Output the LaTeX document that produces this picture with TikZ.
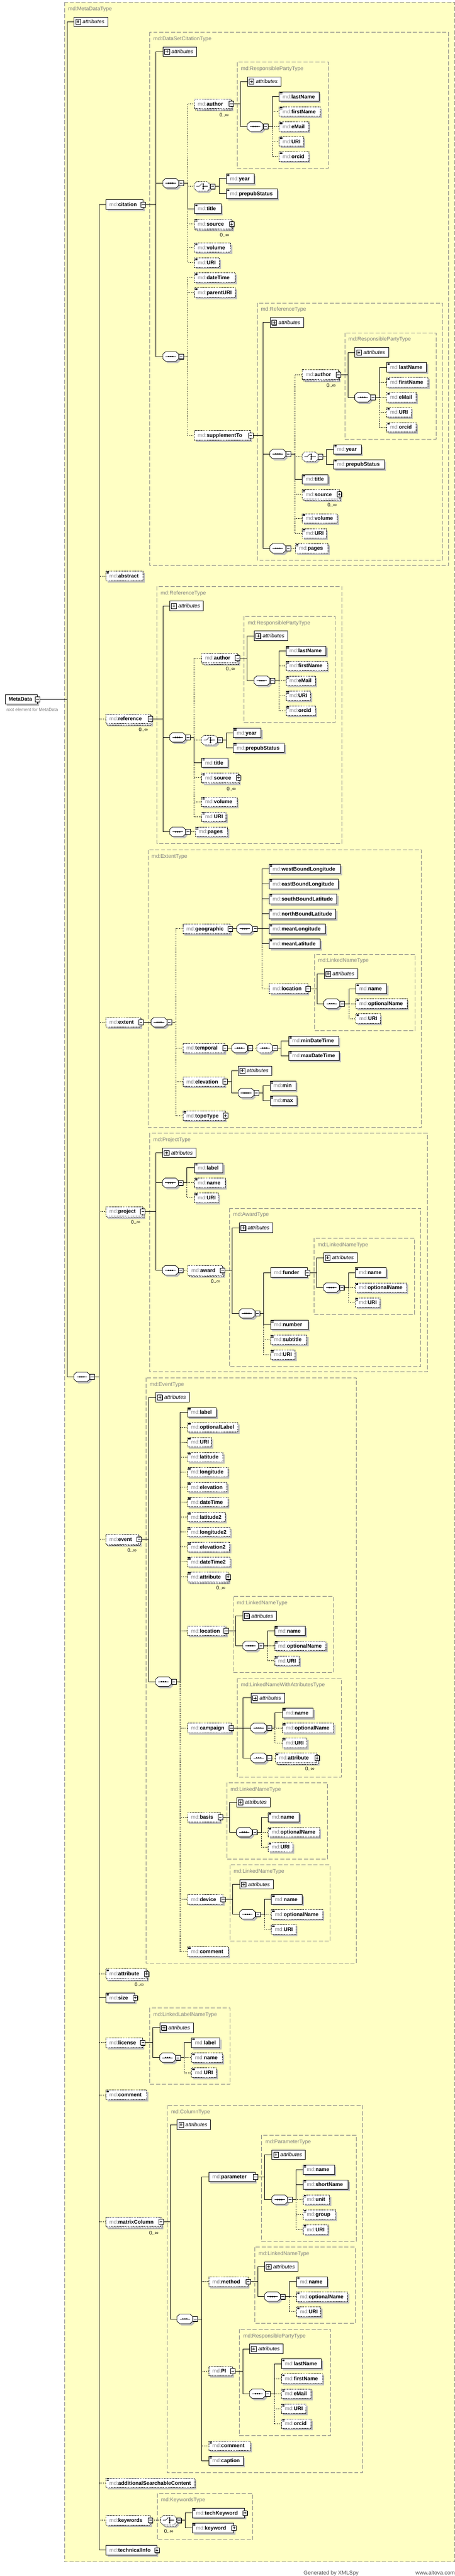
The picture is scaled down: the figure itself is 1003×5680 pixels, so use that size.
\documentclass[tikz,border=0pt]{standalone}
\usepackage{fontspec}
\setmainfont{Liberation Sans}
\pgfdeclarelayer{bgfill}
\pgfdeclarelayer{bgline}
\pgfsetlayers{bgfill,bgline,main}
\definecolor{mdgray}{RGB}{128,128,128}
\definecolor{tgray}{RGB}{128,128,128}
\definecolor{bgyellow}{RGB}{255,255,196}
\definecolor{shd}{RGB}{192,192,192}
\definecolor{footgray}{RGB}{80,80,80}
\newcommand\nmfont{\fontsize{11.6}{13}\selectfont}
\newcommand\tfont{\fontsize{11.8}{13}\selectfont}
\newcommand\cardfont{\fontsize{11}{12}\selectfont}
\newcommand\docfont{\fontsize{9.8}{11}\selectfont}
\newcommand\footfont{\fontsize{12}{13}\selectfont}
\newcommand\nm[1]{{\color{mdgray}md:}\textbf{#1}}
% ---------- element boxes
\newcommand\elbase[6]{%
  \fill[shd] (#2+4,#3-6.5) rectangle (#2+#4+4,#3+14.5);
  \node[elbox,#6,minimum width=#4] (#1) at (#2,#3) {};
  \node[eltext] (#1t) at (#2+8,#3+4) {\nm{#5}};}
\newcommand\elR[5]{\elbase{#1}{#2}{#3}{#4}{#5}{solid}}
\newcommand\elO[5]{\elbase{#1}{#2}{#3}{#4}{#5}{optb}}
\newcommand\elM[5]{%
  \fill[shd] (#2+6,#3-4.5) rectangle (#2+#4+6,#3+16.5);
  \draw[optb,fill=white,line width=0.9pt] (#2+3,#3-7.5) rectangle (#2+#4+3,#3+13.5);
  \node[elbox,optb,minimum width=#4] (#1) at (#2,#3) {};
  \node[eltext] (#1t) at (#2+8,#3+4) {\nm{#5}};
  \node[card] (#1c) at (#2+#4-15,#3+24) {0..∞};}
\newcommand\sico[1]{\draw[line width=0.6pt] (#1.north west) ++(2,1.6) -- ++(5,0) ++(-5,1.6) -- ++(5,0) ++(-5,1.6) -- ++(5,0);}
\newcommand\xbox[1]{\fill[black] (#1) ++(-4,-4.5) rectangle ++(10,11); \draw[fill=white,line width=0.7pt] (#1) ++(-5,-5.5) rectangle ++(10,11);}
\newcommand\xm[1]{\xbox{#1.east}\draw[line width=0.8pt] (#1.east) ++(-3,0) -- ++(6,0);}
\newcommand\xp[1]{\xbox{#1.east}\draw[line width=0.8pt] (#1.east) ++(-3,0) -- ++(6,0) (#1.east) ++(0,-3) -- ++(0,6);}
% ---------- attributes
\newcommand\attr[3]{%
  \node[attrbox] (#1) at (#2,#3) {};
  \fill[black] (#2+5,#3-4.5) rectangle (#2+15.5,#3+6.5);
  \draw[fill=white,line width=0.6pt] (#2+4,#3-5.5) rectangle (#2+14.5,#3+5.5);
  \draw[line width=0.7pt] (#2+6,#3) -- (#2+12.5,#3) (#2+9.25,#3-3.3) -- (#2+9.25,#3+3.3);
  \node[attrtext] (#1t) at (#2+19,#3+4) {attributes};}
% ---------- compositors
\newcommand\octpath[2]{(#1,#2-5) -- (#1+6,#2-10.5) -- (#1+29,#2-10.5) -- (#1+35,#2-5) -- (#1+35,#2+5) -- (#1+29,#2+10.5) -- (#1+6,#2+10.5) -- (#1,#2+5) -- cycle}
\newcommand\seqicon[2]{\draw[line width=0.8pt] (#1+6,#2) -- (#1+29,#2);
  \fill (#1+11.8,#2-1.3) rectangle ++(2.6,2.6) (#1+16.2,#2-1.3) rectangle ++(2.6,2.6) (#1+20.6,#2-1.3) rectangle ++(2.6,2.6);}
\newcommand\chicon[2]{\draw[line width=0.8pt] (#1+5,#2) -- (#1+11,#2) -- (#1+17,#2-6);
  \draw[line width=0.6pt] (#1+20,#2-5.5) -- (#1+20,#2+5.5);
  \fill (#1+18.7,#2-6.5) rectangle ++(2.6,2.6) (#1+18.7,#2-1.3) rectangle ++(2.6,2.6) (#1+18.7,#2+3.9) rectangle ++(2.6,2.6);
  \draw[line width=0.8pt] (#1+21,#2) -- (#1+30,#2);}
\newcommand\cexp[1]{\xbox{#1}\draw[line width=0.8pt] (#1) ++(-3,0) -- ++(6,0);}
\newcommand\seqc[3]{%
  \fill[shd] \octpath{#2+4}{#3+4};
  \node[cbox] (#1) at (#2,#3) {};
  \draw[fill=white,line width=0.9pt] \octpath{#2}{#3};
  \seqicon{#2}{#3}
  \coordinate (#1e) at (#2+40.5,#3);
  \cexp{#1e}}
\newcommand\seqo[3]{%
  \fill[shd] \octpath{#2+4}{#3+4};
  \node[cbox] (#1) at (#2,#3) {};
  \draw[optb,fill=white,line width=0.9pt] \octpath{#2}{#3};
  \seqicon{#2}{#3}
  \coordinate (#1e) at (#2+40.5,#3);
  \cexp{#1e}}
\newcommand\chco[3]{%
  \fill[shd] \octpath{#2+4}{#3+4};
  \node[cbox] (#1) at (#2,#3) {};
  \draw[optb,fill=white,line width=0.9pt] \octpath{#2}{#3};
  \chicon{#2}{#3}
  \coordinate (#1e) at (#2+40.5,#3);
  \cexp{#1e}}
\newcommand\chcm[3]{%
  \fill[shd] \octpath{#2+6}{#3+6};
  \draw[optb,fill=white,line width=0.9pt] \octpath{#2+3}{#3+3};
  \node[cbox] (#1) at (#2,#3) {};
  \draw[optb,fill=white,line width=0.9pt] \octpath{#2}{#3};
  \chicon{#2}{#3}
  \coordinate (#1e) at (#2+40.5,#3);
  \cexp{#1e}
  \node[card] (#1c) at (#2+18,#3+24) {0..∞};}
% ---------- type frames and connectors
\newcommand\tbox[6]{\begin{pgfonlayer}{bgline}\draw[tframe] (#2,#3) rectangle (#4,#5);
  \node[tlabel] (#1) at (#2+8,#3+18) {md:#6};\end{pgfonlayer}}
\newcommand\cn[4]{\path (#4,0) coordinate (tT); \draw[#1] (#2.east) -- (#2.east -| tT) |- (#3.west);}
% ---------- repeated groups
\newcommand\rpgroup[4]{%
  \tbox{#1T}{#3}{#4}{#3+201}{#4+234}{ResponsiblePartyType}
  \attr{#1A}{#3+22}{#4+43}
  \seqc{#1S}{#3+22}{#4+142}
  \elR{#1a}{#3+92}{#4+76}{88}{lastName}\sico{#1a}
  \elO{#1b}{#3+92}{#4+109}{91}{firstName}\sico{#1b}
  \elO{#1c}{#3+92}{#4+142}{65}{eMail}\sico{#1c}
  \elO{#1d}{#3+92}{#4+175}{54}{URI}\sico{#1d}
  \elO{#1e}{#3+92}{#4+208}{65}{orcid}\sico{#1e}
  \begin{pgfonlayer}{bgline}
  \cn{cs}{#2}{#1A}{#3+7}\cn{cs}{#2}{#1S}{#3+7}
  \cn{cd}{#1S}{#1b}{#3+77}\cn{cd}{#1S}{#1c}{#3+77}\cn{cd}{#1S}{#1d}{#3+77}\cn{cd}{#1S}{#1e}{#3+77}
  \cn{cs}{#1S}{#1a}{#3+77}
  \end{pgfonlayer}}
\newcommand\lngroup[5]{%
  \tbox{#1T}{#3}{#4}{#3+#5}{#4+168}{LinkedNameType}
  \attr{#1A}{#3+21}{#4+43}
  \seqc{#1S}{#3+21}{#4+109}
  \elR{#1a}{#3+91}{#4+76}{68}{name}\sico{#1a}
  \elO{#1b}{#3+91}{#4+109}{113}{optionalName}\sico{#1b}
  \elO{#1c}{#3+91}{#4+142}{54}{URI}\sico{#1c}
  \begin{pgfonlayer}{bgline}
  \cn{cs}{#2}{#1A}{#3+6}\cn{cs}{#2}{#1S}{#3+6}
  \cn{cd}{#1S}{#1b}{#3+76}\cn{cd}{#1S}{#1c}{#3+76}\cn{cs}{#1S}{#1a}{#3+76}
  \end{pgfonlayer}}
\begin{document}
\begin{tikzpicture}[x=1pt,y=-1pt,
  elbox/.style={draw,fill=white,inner sep=0pt,minimum height=21pt,anchor=west,line width=0.9pt},
  optb/.style={dash pattern=on 2pt off 1.5pt},
  eltext/.style={anchor=base west,inner sep=0pt,font=\nmfont},
  attrbox/.style={draw,fill=white,inner sep=0pt,minimum width=74pt,minimum height=21pt,anchor=west,line width=1.1pt},
  attrtext/.style={anchor=base west,inner sep=0pt,font=\nmfont\itshape},
  cbox/.style={inner sep=0pt,minimum width=35pt,minimum height=21pt,anchor=west},
  card/.style={inner sep=0pt,font=\cardfont},
  tframe/.style={draw=tgray,line width=1pt,dash pattern=on 9pt off 4pt},
  tlabel/.style={anchor=base west,inner sep=0pt,font=\tfont,text=tgray},
  cs/.style={line width=0.9pt},
  cd/.style={line width=0.9pt,dash pattern=on 2pt off 2pt}]
\useasboundingbox (0,0) rectangle (1003,5680);
\begin{pgfonlayer}{bgfill}
\fill[bgyellow] (142,5) rectangle (1002,5649);
\end{pgfonlayer}
\tbox{mdtT}{142}{5}{1002}{5649}{MetaDataType}
% ---------- root
\fill[shd] (15,1535.5) rectangle (86,1556.5);
\node[elbox,minimum width=71] (root) at (11,1542) {};
\node[eltext] (roott) at (19,1546) {\textbf{MetaData}};
\xm{root}
\node[anchor=base west,inner sep=0pt,font=\docfont,text=mdgray] (rootdoc) at (14,1568) {root element for MetaData};
\attr{A0}{163}{48}
\seqc{ms}{163}{3036}
% ---------- main children
\elR{cit}{233}{451}{82}{citation}\xm{cit}
\elO{abs}{233}{1270}{82}{abstract}\sico{abs}
\elM{ref}{233}{1585}{98}{reference}\xm{ref}
\elO{ext}{233}{2254}{77}{extent}\xm{ext}
\elM{prj}{233}{2671}{81}{project}\xm{prj}
\elM{evt}{233}{3394}{73}{event}\xm{evt}
\elM{att}{233}{4352}{89}{attribute}\sico{att}\xp{att}
\elR{siz}{233}{4405}{64}{size}\sico{siz}\xp{siz}
\elO{lic}{233}{4504}{81}{license}\xm{lic}
\elO{com}{233}{4619}{90}{comment}\sico{com}
\elM{mcl}{233}{4899}{121}{matrixColumn}\xm{mcl}
\elO{asc}{233}{5475}{196}{additionalSearchableContent}\sico{asc}
\elO{kw}{233}{5557}{98}{keywords}\xm{kw}
\elR{tin}{233}{5623}{112}{technicalInfo}\xp{tin}
% ---------- DataSetCitationType
\tbox{dsT}{330}{71}{989}{1247}{DataSetCitationType}
\attr{citA}{359}{114}
\seqc{s1}{359}{404}
\seqc{s2}{359}{786}
\elM{au1}{428}{229}{81}{author}\xm{au1}
\chco{c1}{428}{411}
\elR{tit1}{428}{460}{59}{title}\sico{tit1}
\elM{src1}{428}{494}{82}{source}\sico{src1}\xp{src1}
\elO{vol1}{428}{546}{80}{volume}\sico{vol1}
\elO{uri1}{428}{579}{55}{URI}\sico{uri1}
\elR{yr1}{499}{394}{61}{year}\sico{yr1}
\elR{pp1}{499}{427}{112}{prepubStatus}\sico{pp1}
\elO{dt1}{428}{612}{90}{dateTime}\sico{dt1}
\elO{pu1}{428}{645}{91}{parentURI}\sico{pu1}
\elO{sup}{428}{960}{124}{supplementTo}\xm{sup}
\rpgroup{rpa}{au1}{523}{137}
% supplementTo ReferenceType
\tbox{rtaT}{567}{668}{975}{1235}{ReferenceType}
\attr{supA}{595}{711}
\seqc{supSa}{595}{1001}
\seqc{supSb}{595}{1209}
\elM{au2}{666}{826}{79}{author}\xm{au2}
\chco{c2}{666}{1007}
\elR{tit2}{666}{1057}{57}{title}\sico{tit2}
\elM{src2}{666}{1090}{81}{source}\sico{src2}\xp{src2}
\elO{vol2}{666}{1143}{77}{volume}\sico{vol2}
\elO{uri2}{666}{1176}{53}{URI}\sico{uri2}
\elR{yr2}{735}{991}{61}{year}\sico{yr2}
\elR{pp2}{735}{1024}{112}{prepubStatus}\sico{pp2}
\elO{pg2}{651}{1209}{72}{pages}\sico{pg2}
\rpgroup{rpb}{au2}{760}{734}
% ---------- reference ReferenceType
\tbox{rtbT}{346}{1293}{754}{1860}{ReferenceType}
\attr{refA}{374}{1336}
\seqc{refSa}{374}{1626}
\seqc{refSb}{374}{1834}
\elM{au3}{444}{1451}{79}{author}\xm{au3}
\chco{c3}{444}{1632}
\elR{tit3}{444}{1682}{58}{title}\sico{tit3}
\elM{src3}{444}{1715}{81}{source}\sico{src3}\xp{src3}
\elO{vol3}{444}{1768}{78}{volume}\sico{vol3}
\elO{uri3}{444}{1801}{54}{URI}\sico{uri3}
\elR{yr3}{514}{1616}{61}{year}\sico{yr3}
\elR{pp3}{514}{1649}{112}{prepubStatus}\sico{pp3}
\elO{pg3}{430}{1834}{71}{pages}\sico{pg3}
\rpgroup{rpc}{au3}{538}{1359}
% ---------- ExtentType
\tbox{exT}{326}{1874}{929}{2486}{ExtentType}
\seqc{exS}{333}{2254}
\elO{geo}{403}{2048}{104}{geographic}\xm{geo}
\elO{tmp}{403}{2311}{92}{temporal}\xm{tmp}
\elO{elv}{403}{2385}{92}{elevation}\xm{elv}
\elO{topo}{403}{2460}{93}{topoType}\sico{topo}\xp{topo}
\seqc{geoS}{522}{2048}
\elR{wbl}{593}{1916}{157}{westBoundLongitude}\sico{wbl}
\elR{ebl}{593}{1949}{152}{eastBoundLongitude}\sico{ebl}
\elR{sbl}{593}{1982}{149}{southBoundLatitude}\sico{sbl}
\elR{nbl}{593}{2015}{147}{northBoundLatitude}\sico{nbl}
\elR{mlo}{593}{2048}{124}{meanLongitude}\sico{mlo}
\elR{mla}{593}{2081}{113}{meanLatitude}\sico{mla}
\elO{loca}{593}{2180}{85}{location}\xm{loca}
\lngroup{lna}{loca}{693}{2104}{222}
\seqc{tSa}{511}{2311}
\seqo{tSb}{566}{2311}
\elR{mindt}{636}{2295}{110}{minDateTime}\sico{mindt}
\elR{maxdt}{636}{2328}{112}{maxDateTime}\sico{maxdt}
\attr{elvA}{525}{2361}
\seqc{elvS}{525}{2410}
\elR{emin}{595}{2394}{57}{min}\sico{emin}
\elR{emax}{595}{2427}{59}{max}\sico{emax}
% ---------- ProjectType
\tbox{ptT}{330}{2499}{942}{3025}{ProjectType}
\attr{prjA}{358}{2542}
\seqc{prjSa}{358}{2608}
\seqc{prjSb}{358}{2801}
\elR{plab}{428}{2575}{63}{label}\sico{plab}
\elO{pnm}{428}{2608}{68}{name}\sico{pnm}
\elO{puri}{428}{2641}{53}{URI}\sico{puri}
\elM{awd}{414}{2801}{76}{award}\xm{awd}
\tbox{awT}{506}{2664}{928}{3013}{AwardType}
\attr{awdA}{527}{2707}
\seqc{awdS}{527}{2896}
\elR{fnd}{596}{2806}{81}{funder}\xm{fnd}
\elR{num}{596}{2921}{83}{number}\sico{num}
\elO{subt}{596}{2954}{80}{subtitle}\sico{subt}
\elO{auri}{596}{2987}{54}{URI}\sico{auri}
\lngroup{lnb}{fnd}{692}{2730}{222}
% ---------- EventType
\tbox{evT}{322}{3038}{785}{4329}{EventType}
\attr{evA}{343}{3081}
\seqc{evS}{343}{3708}
\elR{elab}{413}{3114}{63}{label}\sico{elab}
\elO{eolab}{413}{3147}{111}{optionalLabel}\sico{eolab}
\elO{euri}{413}{3180}{53}{URI}\sico{euri}
\elO{elat}{413}{3213}{78}{latitude}\sico{elat}
\elO{elon}{413}{3246}{89}{longitude}\sico{elon}
\elO{eelv}{413}{3279}{87}{elevation}\sico{eelv}
\elO{edt}{413}{3312}{89}{dateTime}\sico{edt}
\elO{elatb}{413}{3345}{83}{latitude2}\sico{elatb}
\elO{elonb}{413}{3378}{94}{longitude2}\sico{elonb}
\elO{eelvb}{413}{3411}{93}{elevation2}\sico{eelvb}
\elO{edtb}{413}{3444}{94}{dateTime2}\sico{edtb}
\elM{eatt}{413}{3477}{89}{attribute}\sico{eatt}\xp{eatt}
\elO{eloc}{413}{3596}{85}{location}\xm{eloc}
\elO{ecmp}{413}{3810}{96}{campaign}\xm{ecmp}
\elO{ebas}{413}{4007}{72}{basis}\xm{ebas}
\elO{edev}{413}{4188}{78}{device}\xm{edev}
\elO{ecom}{413}{4303}{90}{comment}\sico{ecom}
\lngroup{lnc}{eloc}{514}{3520}{221}
\tbox{lnwT}{523}{3701}{752}{3918}{LinkedNameWithAttributesType}
\attr{cmpA}{553}{3744}
\seqc{cmpSa}{553}{3810}
\seqc{cmpSb}{553}{3876}
\elR{cnm}{622}{3777}{68}{name}\sico{cnm}
\elO{conm}{622}{3810}{113}{optionalName}\sico{conm}
\elO{curi}{622}{3843}{54}{URI}\sico{curi}
\elM{catt}{607}{3876}{91}{attribute}\sico{catt}\xp{catt}
\lngroup{lnd}{ebas}{500}{3931}{222}
\lngroup{lne}{edev}{507}{4112}{221}
% ---------- LinkedLabelNameType
\tbox{licT}{330}{4428}{507}{4596}{LinkedLabelNameType}
\attr{licA}{352}{4471}
\seqc{licS}{352}{4537}
\elR{llab}{422}{4504}{62}{label}\sico{llab}
\elO{lnm}{422}{4537}{68}{name}\sico{lnm}
\elO{luri}{422}{4570}{54}{URI}\sico{luri}
% ---------- ColumnType
\tbox{colT}{369}{4642}{799}{5452}{ColumnType}
\attr{mclA}{390}{4685}
\seqc{mclS}{390}{5113}
\elR{par}{460}{4800}{102}{parameter}\xm{par}
\elO{mth}{460}{5031}{86}{method}\xm{mth}
\elO{pinv}{460}{5228}{52}{PI}\xm{pinv}
\elO{ccom}{460}{5393}{91}{comment}\sico{ccom}
\elR{capt}{460}{5426}{76}{caption}\sico{capt}
\tbox{parT}{577}{4708}{785}{4942}{ParameterType}
\attr{parA}{599}{4751}
\seqc{parS}{599}{4850}
\elR{pnmb}{668}{4784}{69}{name}\sico{pnmb}
\elR{psn}{668}{4817}{99}{shortName}\sico{psn}
\elO{punit}{668}{4850}{58}{unit}\sico{punit}
\elO{pgrp}{668}{4883}{71}{group}\sico{pgrp}
\elO{purib}{668}{4916}{54}{URI}\sico{purib}
\lngroup{lng}{mth}{562}{4955}{221}
\rpgroup{rpd}{pinv}{528}{5136}
% ---------- KeywordsType
\tbox{kwT}{347}{5498}{557}{5600}{KeywordsType}
\chcm{kwC}{354}{5557}
\elR{tkw}{424}{5541}{115}{techKeyword}\sico{tkw}\xp{tkw}
\elR{kwd}{424}{5574}{91}{keyword}\sico{kwd}\xp{kwd}
% ---------- footer
\node[anchor=base west,inner sep=0pt,font=\footfont,text=footgray] (gen) at (669,5677) {Generated by XMLSpy};
\node[anchor=base east,inner sep=0pt,font=\footfont,text=footgray] (alt) at (1003,5677) {www.altova.com};
% ---------- connectors
\begin{pgfonlayer}{bgline}
\cn{cs}{root}{A0}{148}\cn{cs}{root}{ms}{148}
\cn{cd}{ms}{abs}{218}\cn{cd}{ms}{ref}{218}\cn{cd}{ms}{ext}{218}\cn{cd}{ms}{prj}{218}
\cn{cd}{ms}{evt}{218}\cn{cd}{ms}{att}{218}\cn{cd}{ms}{lic}{218}\cn{cd}{ms}{com}{218}
\cn{cd}{ms}{mcl}{218}\cn{cd}{ms}{asc}{218}\cn{cd}{ms}{kw}{218}
\cn{cs}{ms}{cit}{218}\cn{cs}{ms}{siz}{218}\cn{cs}{ms}{tin}{218}
% citation
\cn{cs}{cit}{citA}{344}\cn{cs}{cit}{s1}{344}\cn{cs}{cit}{s2}{344}
\cn{cd}{s1}{au1}{414}\cn{cd}{s1}{c1}{414}\cn{cd}{s1}{src1}{414}\cn{cd}{s1}{vol1}{414}\cn{cd}{s1}{uri1}{414}
\cn{cs}{s1}{tit1}{414}
\cn{cs}{c1}{yr1}{483}\cn{cs}{c1}{pp1}{483}
\cn{cd}{s2}{dt1}{414}\cn{cd}{s2}{pu1}{414}\cn{cd}{s2}{sup}{414}
\cn{cs}{sup}{supA}{580}\cn{cs}{sup}{supSa}{580}\cn{cs}{sup}{supSb}{580}
\cn{cd}{supSa}{au2}{650}\cn{cd}{supSa}{c2}{650}\cn{cd}{supSa}{src2}{650}\cn{cd}{supSa}{vol2}{650}\cn{cd}{supSa}{uri2}{650}
\cn{cs}{supSa}{tit2}{650}
\cn{cs}{c2}{yr2}{719}\cn{cs}{c2}{pp2}{719}
\cn{cd}{supSb}{pg2}{646}
% reference
\cn{cs}{ref}{refA}{359}\cn{cs}{ref}{refSa}{359}\cn{cs}{ref}{refSb}{359}
\cn{cd}{refSa}{au3}{428}\cn{cd}{refSa}{c3}{428}\cn{cd}{refSa}{src3}{428}\cn{cd}{refSa}{vol3}{428}\cn{cd}{refSa}{uri3}{428}
\cn{cs}{refSa}{tit3}{428}
\cn{cs}{c3}{yr3}{499}\cn{cs}{c3}{pp3}{499}
\cn{cd}{refSb}{pg3}{425}
% extent
\cn{cs}{ext}{exS}{326}
\cn{cd}{exS}{geo}{388}\cn{cd}{exS}{tmp}{388}\cn{cd}{exS}{elv}{388}\cn{cd}{exS}{topo}{388}
\cn{cs}{geo}{geoS}{517}
\cn{cd}{geoS}{loca}{577}
\cn{cs}{geoS}{wbl}{577}\cn{cs}{geoS}{ebl}{577}\cn{cs}{geoS}{sbl}{577}\cn{cs}{geoS}{nbl}{577}\cn{cs}{geoS}{mlo}{577}\cn{cs}{geoS}{mla}{577}
\cn{cs}{tmp}{tSa}{506}\cn{cd}{tSa}{tSb}{561}
\cn{cs}{tSb}{mindt}{620}\cn{cs}{tSb}{maxdt}{620}
\cn{cs}{elv}{elvA}{510}\cn{cs}{elv}{elvS}{510}
\cn{cs}{elvS}{emin}{580}\cn{cs}{elvS}{emax}{580}
% project
\cn{cs}{prj}{prjA}{343}\cn{cs}{prj}{prjSa}{343}\cn{cs}{prj}{prjSb}{343}
\cn{cd}{prjSa}{pnm}{412}\cn{cd}{prjSa}{puri}{412}\cn{cs}{prjSa}{plab}{412}
\cn{cd}{prjSb}{awd}{409}
\cn{cs}{awd}{awdA}{512}\cn{cs}{awd}{awdS}{512}
\cn{cd}{awdS}{subt}{581}\cn{cd}{awdS}{auri}{581}\cn{cs}{awdS}{fnd}{581}\cn{cs}{awdS}{num}{581}
% event
\cn{cs}{evt}{evA}{328}\cn{cs}{evt}{evS}{328}
\cn{cd}{evS}{eolab}{397}\cn{cd}{evS}{euri}{397}\cn{cd}{evS}{elat}{397}\cn{cd}{evS}{elon}{397}
\cn{cd}{evS}{eelv}{397}\cn{cd}{evS}{edt}{397}\cn{cd}{evS}{elatb}{397}\cn{cd}{evS}{elonb}{397}
\cn{cd}{evS}{eelvb}{397}\cn{cd}{evS}{edtb}{397}\cn{cd}{evS}{eatt}{397}\cn{cd}{evS}{eloc}{397}
\cn{cd}{evS}{ecmp}{397}\cn{cd}{evS}{ebas}{397}\cn{cd}{evS}{edev}{397}\cn{cd}{evS}{ecom}{397}
\cn{cs}{evS}{elab}{397}
\cn{cs}{ecmp}{cmpA}{536}\cn{cs}{ecmp}{cmpSa}{536}\cn{cs}{ecmp}{cmpSb}{536}
\cn{cd}{cmpSa}{conm}{606}\cn{cd}{cmpSa}{curi}{606}\cn{cs}{cmpSa}{cnm}{606}
\cn{cd}{cmpSb}{catt}{603}
% license
\cn{cs}{lic}{licA}{337}\cn{cs}{lic}{licS}{337}
\cn{cd}{licS}{lnm}{406}\cn{cd}{licS}{luri}{406}\cn{cs}{licS}{llab}{406}
% matrixColumn
\cn{cs}{mcl}{mclA}{375}\cn{cs}{mcl}{mclS}{375}
\cn{cd}{mclS}{mth}{445}\cn{cd}{mclS}{pinv}{445}\cn{cd}{mclS}{ccom}{445}
\cn{cs}{mclS}{par}{445}\cn{cs}{mclS}{capt}{445}
\cn{cs}{par}{parA}{583}\cn{cs}{par}{parS}{583}
\cn{cd}{parS}{punit}{653}\cn{cd}{parS}{pgrp}{653}\cn{cd}{parS}{purib}{653}
\cn{cs}{parS}{pnmb}{653}\cn{cs}{parS}{psn}{653}
% keywords
\cn{cd}{kw}{kwC}{345}
\cn{cs}{kwC}{tkw}{408}\cn{cs}{kwC}{kwd}{408}
\end{pgfonlayer}
\end{tikzpicture}
\end{document}
